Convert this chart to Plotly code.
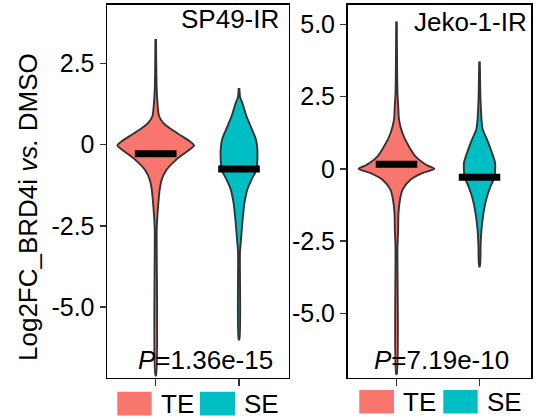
import plotly.graph_objects as go

# ---------------- data ----------------
groups = ["TE", "SE"]
panels = ["SP49-IR", "Jeko-1-IR"]
p_values = ["1.36e-15", "7.19e-10"]
y_ticks = [-5.0, -2.5, 0.0, 2.5, 5.0]
y_tick_text = ["-5.0", "-2.5", "0", "2.5", "5.0"]

# violin density profiles: log2FC level and half-width (category units)
sp49_te_y = [3.25, 1.69, 1.08, 0.87, 0.67, 0.46, 0.26, 0.10, -0.03, -0.15, -0.31, -0.51, -0.77, -1.08, -1.38, -1.79, -2.2, -2.6, -7.1]
sp49_te_w = [0.004, 0.012, 0.028, 0.040, 0.090, 0.192, 0.312, 0.408, 0.460, 0.408, 0.324, 0.228, 0.132, 0.072, 0.048, 0.032, 0.020, 0.012, 0.004]

sp49_se_y = [1.74, 1.45, 1.28, 0.87, 0.46, 0.15, -0.15, -0.46, -0.77, -1.08, -1.38, -1.79, -2.41, -2.92, -3.3, -6.0]
sp49_se_w = [0.004, 0.014, 0.040, 0.090, 0.156, 0.204, 0.220, 0.220, 0.210, 0.150, 0.100, 0.066, 0.040, 0.024, 0.012, 0.004]

jeko_te_y = [5.10, 2.6, 2.1, 1.70, 1.23, 0.77, 0.43, 0.20, 0.10, 0.0, -0.07, -0.15, -0.38, -0.73, -1.07, -1.53, -2.1, -2.7, -7.1]
jeko_te_w = [0.004, 0.012, 0.022, 0.030, 0.072, 0.150, 0.228, 0.324, 0.384, 0.456, 0.396, 0.312, 0.168, 0.072, 0.042, 0.024, 0.020, 0.012, 0.004]

jeko_se_y = [3.71, 2.39, 1.81, 1.70, 1.35, 1.0, 0.54, 0.20, -0.03, -0.29, -0.61, -1.07, -1.53, -2.1, -2.6, -3.38]
jeko_se_w = [0.004, 0.012, 0.022, 0.024, 0.040, 0.092, 0.152, 0.188, 0.188, 0.180, 0.132, 0.080, 0.048, 0.024, 0.014, 0.004]

sp49_medians = [-0.28, -0.75]
jeko_medians = [0.16, -0.29]

# ---------------- styling ----------------
FONT = "Liberation Sans, Arial, sans-serif"
fill_colors = ["#F8766D", "#00BFC4"]
outline = "#333333"

W, H = 536, 420


def px(x):
    return x / W


def py(y):
    return 1 - y / H


profiles = [
    [(sp49_te_y, sp49_te_w), (sp49_se_y, sp49_se_w)],
    [(jeko_te_y, jeko_te_w), (jeko_se_y, jeko_se_w)],
]
medians = [sp49_medians, jeko_medians]

fig = go.Figure()
axis_ids = [("x", "y"), ("x2", "y2")]

for p in range(2):
    xa, ya = axis_ids[p]
    for g in range(2):
        ys, ws = profiles[p][g]
        c = g + 1
        xs = [c + w for w in ws] + [c - w for w in reversed(ws)]
        yy = list(ys) + list(reversed(ys))
        fig.add_trace(go.Scatter(
            x=xs, y=yy, xaxis=xa, yaxis=ya, mode="lines",
            fill="toself", fillcolor=fill_colors[g],
            line=dict(color=outline, width=1.9, shape="spline", smoothing=0.8),
            name=groups[g], showlegend=False, hoverinfo="skip"))
    for g in range(2):
        c = g + 1
        m = medians[p][g]
        fig.add_trace(go.Scatter(
            x=[c - 0.25, c + 0.25], y=[m, m], xaxis=xa, yaxis=ya,
            mode="lines", line=dict(color="black", width=7),
            showlegend=False, hoverinfo="skip"))

common_x = dict(showline=True, linecolor="black", linewidth=1.5, mirror=True,
                ticks="outside", ticklen=7, tickwidth=1.5, tickcolor=outline,
                tickvals=[1, 2], showticklabels=False, showgrid=False, zeroline=False)
common_y = dict(showline=True, linecolor="black", linewidth=1.5, mirror=True,
                ticks="outside", ticklen=6, tickwidth=1.5, tickcolor=outline,
                tickvals=y_ticks, ticktext=y_tick_text,
                tickfont=dict(family=FONT, size=25, color="black"),
                showgrid=False, zeroline=False)

fig.update_layout(
    width=W, height=H,
    margin=dict(l=0, r=0, t=0, b=0),
    paper_bgcolor="white", plot_bgcolor="white",
    showlegend=False,
    xaxis=dict(domain=[px(107), px(288.5)], range=[0.415, 2.594], anchor="y", **common_x),
    yaxis=dict(domain=[py(377.5), py(4.5)], range=[-7.17, 4.31], anchor="x", **common_y),
    xaxis2=dict(domain=[px(347.5), px(531)], range=[0.41, 2.62], anchor="y2", **common_x),
    yaxis2=dict(domain=[py(377.5), py(4.5)], range=[-7.22, 5.685], anchor="x2", **common_y),
)

ann = []
# y axis title
ann.append(dict(x=px(28), y=py(207), xref="paper", yref="paper",
                text="Log2FC_BRD4i <i>vs.</i> DMSO", textangle=-90, showarrow=False,
                font=dict(family=FONT, size=26, color="black"),
                xanchor="center", yanchor="middle"))
# panel labels
label_pos = [(281, 19), (529, 21.5)]
for p in range(2):
    ann.append(dict(x=px(label_pos[p][0]), y=py(label_pos[p][1]), xref="paper", yref="paper",
                    text=panels[p], showarrow=False, font=dict(family=FONT, size=26, color="black"),
                    xanchor="right", yanchor="middle"))
# p-values
pv_pos = [(205, 360), (441.5, 360)]
for p in range(2):
    ann.append(dict(x=px(pv_pos[p][0]), y=py(pv_pos[p][1]), xref="paper", yref="paper",
                    text="<i>P</i>=" + p_values[p], showarrow=False,
                    font=dict(family=FONT, size=26, color="black"),
                    xanchor="center", yanchor="middle"))

# legends (one per panel)
shapes = []
legend_keys = [[(117.3, 151.7), (200, 235)], [(359.3, 394), (443.3, 477.7)]]
legend_y = [(391.7, 415.5), (390, 413.5)]
for p in range(2):
    y0, y1 = legend_y[p]
    for g in range(2):
        x0, x1 = legend_keys[p][g]
        shapes.append(dict(type="rect", xref="paper", yref="paper",
                           x0=px(x0), x1=px(x1), y0=py(y1), y1=py(y0),
                           fillcolor=fill_colors[g], line=dict(width=0)))
        ann.append(dict(x=px(x1 + 7), y=py((y0 + y1) / 2), xref="paper", yref="paper",
                        text=groups[g], showarrow=False,
                        font=dict(family=FONT, size=26, color="black"),
                        xanchor="left", yanchor="middle"))

fig.update_layout(annotations=ann, shapes=shapes)
fig.write_html(
    "out.html",
    config={"displayModeBar": False, "staticPlot": True},
    post_script="document.body.style.margin='0px';document.body.style.overflow='hidden';",
)
